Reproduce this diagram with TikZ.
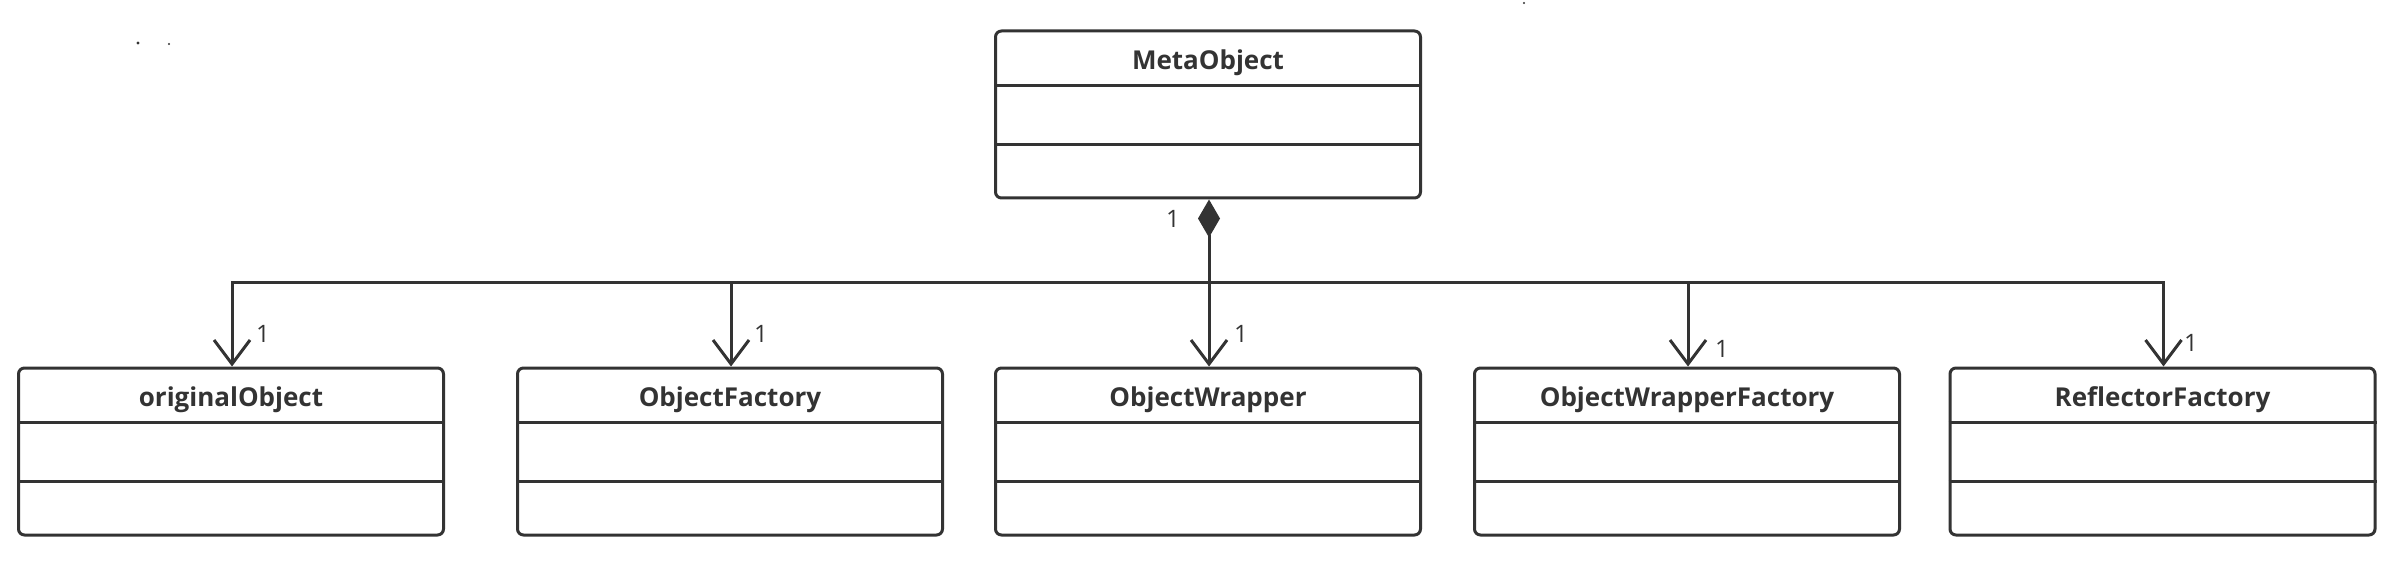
\documentclass[tikz,border=0pt]{standalone}
\usepackage{fontspec}
\setmainfont{Open Sans}
\usetikzlibrary{arrows.meta}
\definecolor{ink}{HTML}{333333}
\begin{document}
\begin{tikzpicture}[x=1pt,y=1pt,
  umlbox/.style={draw=ink,line width=3pt,rounded corners=6pt,minimum width=425pt,minimum height=167pt,inner sep=0pt},
  umltitle/.style={text=ink,font=\fontsize{26}{30}\selectfont\bfseries,inner sep=0pt},
  mult/.style={text=ink,font=\fontsize{24}{28}\selectfont,inner sep=0pt},
  sep/.style={draw=ink,line width=3pt},
  assoc/.style={draw=ink,line width=3pt,-{Straight Barb[length=24pt,width=36pt]}},
  comp/.style={draw=ink,line width=3pt,{Diamond[length=38pt,width=22pt]}-}]
\useasboundingbox (0,0) rectangle (2402,566);
\fill[white] (0,0) rectangle (2402,566);
% tiny specks
\fill[ink] (138,523) circle (1.6pt);
\fill[ink] (169,522) circle (1.2pt);
\fill[ink] (1524,563) circle (1.2pt);
% classes
\node[umlbox] (meta) at (1208,451.5) {};
\node[umlbox] (c1) at (231,114.5) {};
\node[umlbox] (c2) at (730,114.5) {};
\node[umlbox] (c3) at (1208,114.5) {};
\node[umlbox] (c4) at (1687,114.5) {};
\node[umlbox] (c5) at (2162.5,114.5) {};
\foreach \b/\t in {meta/MetaObject,c1/originalObject,c2/ObjectFactory,c3/ObjectWrapper,c4/ObjectWrapperFactory,c5/ReflectorFactory}{
  \node[umltitle] (\b-title) at ([yshift=-33pt]\b.north) {\t};
  \draw[sep] ([yshift=-56pt]\b.north west) -- ([yshift=-56pt]\b.north east);
  \draw[sep] ([yshift=-115pt]\b.north west) -- ([yshift=-115pt]\b.north east);
}
% connectors
\coordinate (bus) at (1209,284);
\draw[comp] ([xshift=1pt]meta.south) -- (bus);
\foreach \c in {c1,c2,c3,c4,c5}{
  \draw[assoc] (bus) -| ([xshift=1pt]\c.north);
}
% multiplicities
\node[mult] (m0) at (1173,347) {1};
\node[mult] (m1) at (263,232) {1};
\node[mult] (m2) at (761,232) {1};
\node[mult] (m3) at (1241,232) {1};
\node[mult] (m4) at (1722,217) {1};
\node[mult] (m5) at (2191,223) {1};
\end{tikzpicture}
\end{document}
